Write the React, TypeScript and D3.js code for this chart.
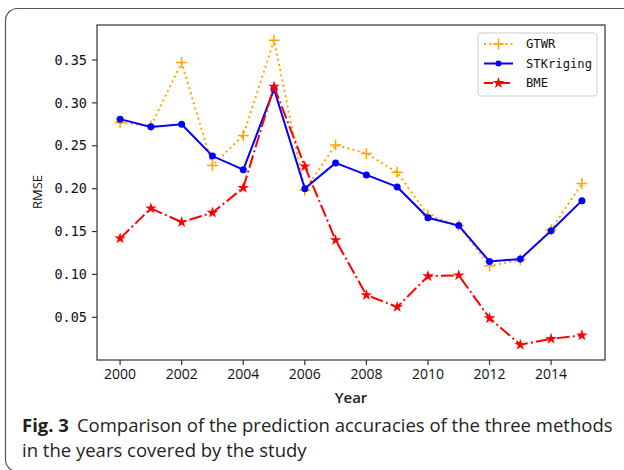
import React from 'react';
import * as d3 from 'd3';

const years = [2000, 2001, 2002, 2003, 2004, 2005, 2006, 2007, 2008, 2009, 2010, 2011, 2012, 2013, 2014, 2015];
const gtwr = [0.277, 0.273, 0.347, 0.227, 0.262, 0.373, 0.198, 0.251, 0.241, 0.219, 0.169, 0.157, 0.110, 0.117, 0.152, 0.206];
const stkriging = [0.281, 0.272, 0.275, 0.238, 0.222, 0.316, 0.200, 0.230, 0.216, 0.202, 0.166, 0.157, 0.115, 0.118, 0.151, 0.186];
const bme = [0.142, 0.177, 0.161, 0.172, 0.201, 0.319, 0.226, 0.140, 0.076, 0.062, 0.098, 0.099, 0.049, 0.018, 0.025, 0.029];
const yTicks = [0.05, 0.10, 0.15, 0.20, 0.25, 0.30, 0.35];
const xTicks = [2000, 2002, 2004, 2006, 2008, 2010, 2012, 2014];
const seriesNames = ['GTWR', 'STKriging', 'BME'];

const W = 624;
const H = 470;
const plot = {left: 97, right: 605, top: 25, bottom: 360};

const monoFont = '"DejaVu Sans Mono", "Liberation Mono", monospace';
const sansFont = '"Open Sans", "Noto Sans", sans-serif';

function padded(lo: number, hi: number) {
  const m = (hi - lo) * 0.05;
  return [lo - m, hi + m];
}

export default function App() {
  const allVals = [...gtwr, ...stkriging, ...bme];
  const x = d3.scaleLinear()
    .domain(padded(d3.min(years)!, d3.max(years)!))
    .range([plot.left, plot.right]);
  const y = d3.scaleLinear()
    .domain(padded(d3.min(allVals)!, d3.max(allVals)!))
    .range([plot.bottom, plot.top]);

  const line = (vals: number[]) =>
    d3.line<number>().x((d, i) => x(years[i])).y(d => y(d))(vals) || '';

  const star = d3.symbol().type(d3.symbolStar).size(42)() || '';
  const plus = (cx: number, cy: number, k: string) => (
    <path key={k} d={`M${cx - 5.5},${cy}H${cx + 5.5}M${cx},${cy - 5.5}V${cy + 5.5}`} stroke="#FFA500" strokeWidth={1.5} fill="none" />
  );

  const styles = [
    {color: '#FFA500', dash: '2,3.3'},
    {color: '#0000FF', dash: ''},
    {color: '#FF0000', dash: '12.8,3.2,2,3.2'},
  ];

  const legX = 478;
  const legY = 33;
  const legRows = [44, 63.5, 83];

  return (
    <svg width={W} height={H} style={{position: 'absolute', left: 0, top: 0, background: '#fff'}}>
      {/* outer frame */}
      <rect x={5.5} y={8.5} width={680} height={463} rx={12} fill="#fff" stroke="#555" strokeWidth={1.2} />

      {/* plot frame */}
      <rect x={plot.left} y={plot.top} width={plot.right - plot.left} height={plot.bottom - plot.top} fill="#fff" stroke="#333" strokeWidth={1.2} />

      {/* y ticks */}
      {yTicks.map(t => (
        <g key={'y' + t}>
          <line x1={plot.left - 5} x2={plot.left} y1={y(t)} y2={y(t)} stroke="#333" strokeWidth={1.2} />
          <text x={plot.left - 10} y={y(t)} dy="0.35em" textAnchor="end" fontFamily={monoFont} fontSize={13.5} fill="#111">{t.toFixed(2)}</text>
        </g>
      ))}
      {/* x ticks */}
      {xTicks.map(t => (
        <g key={'x' + t}>
          <line x1={x(t)} x2={x(t)} y1={plot.bottom} y2={plot.bottom + 5} stroke="#333" strokeWidth={1.2} />
          <text x={x(t)} y={plot.bottom + 19} textAnchor="middle" fontFamily={sansFont} fontSize={14} fill="#111">{t}</text>
        </g>
      ))}
      <text x={(plot.left + plot.right) / 2} y={403} textAnchor="middle" fontFamily={sansFont} fontSize={15} fontWeight={600} fill="#222">Year</text>
      <text transform={`translate(42,192) rotate(-90)`} textAnchor="middle" fontFamily={sansFont} fontSize={13} fill="#111">RMSE</text>

      {/* series */}
      <path d={line(gtwr)} fill="none" stroke={styles[0].color} strokeWidth={2} strokeDasharray={styles[0].dash} />
      {gtwr.map((v, i) => plus(x(years[i]), y(v), 'g' + i))}

      <path d={line(stkriging)} fill="none" stroke={styles[1].color} strokeWidth={2} />
      {stkriging.map((v, i) => <circle key={'s' + i} cx={x(years[i])} cy={y(v)} r={3.5} fill={styles[1].color} />)}

      <path d={line(bme)} fill="none" stroke={styles[2].color} strokeWidth={2} strokeDasharray={styles[2].dash} />
      {bme.map((v, i) => <path key={'b' + i} d={star} transform={`translate(${x(years[i])},${y(v)})`} fill={styles[2].color} />)}

      {/* legend */}
      <rect x={legX} y={legY} width={119} height={63} rx={3} fill="#fff" fillOpacity={0.85} stroke="#ccc" />
      {seriesNames.map((name, i) => (
        <g key={name}>
          <line x1={484} x2={513} y1={legRows[i]} y2={legRows[i]} stroke={styles[i].color} strokeWidth={2} strokeDasharray={i === 2 ? '9,3,2,3' : styles[i].dash} />
          {i === 0 && plus(498.5, legRows[i], 'lp')}
          {i === 1 && <circle cx={498.5} cy={legRows[i]} r={3} fill={styles[1].color} />}
          {i === 2 && <path d={star} transform={`translate(498.5,${legRows[i]})`} fill={styles[2].color} />}
          <text x={526} y={legRows[i]} dy="0.35em" fontFamily={monoFont} fontSize={12.2} fill="#111">{name}</text>
        </g>
      ))}

      {/* caption */}
      <text x={22} y={432} fontFamily={sansFont} fontSize={18.5} fill="#231f20">
        <tspan fontWeight={700}>Fig. 3</tspan>
        <tspan dx={8}>Comparison of the prediction accuracies of the three methods</tspan>
      </text>
      <text x={22} y={457} fontFamily={sansFont} fontSize={18.5} fill="#231f20">in the years covered by the study</text>
    </svg>
  );
}
